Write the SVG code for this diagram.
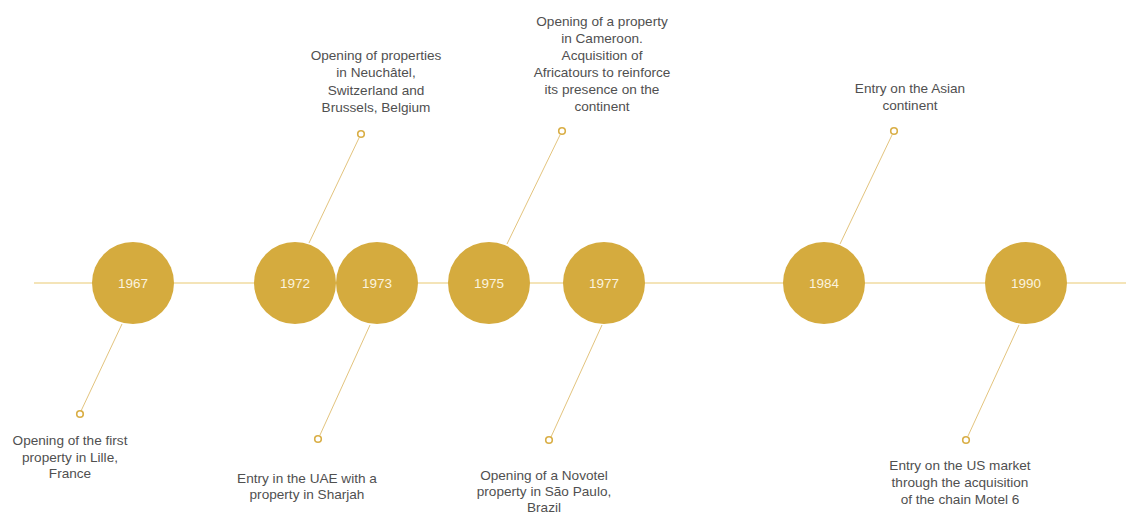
<svg xmlns="http://www.w3.org/2000/svg" width="1126" height="516" viewBox="0 0 1126 516">
  <style>
    .axis { stroke: #f4e4b8; stroke-width: 2; fill: none; }
    .stem { stroke: #e3c47e; stroke-width: 1; fill: none; }
    .pin { fill: #ffffff; stroke: #d9ae45; stroke-width: 1.6; }
    .year-dot { fill: #d5ab3e; }
    .year { font-family: "Liberation Sans", Arial, sans-serif; font-size: 13.5px; fill: #fbf3df; text-anchor: middle; }
    .label { font-family: "Liberation Sans", Arial, sans-serif; font-size: 13.6px; fill: #505050; text-anchor: middle; }
  </style>

  <rect width="1126" height="516" fill="#ffffff"/>

  <!-- timeline axis and stems to the annotation pins -->
  <g id="connectors">
    <line class="axis" x1="34" y1="283" x2="1126" y2="283"/>
    <line class="stem" x1="122" y1="324" x2="81" y2="411"/>
    <line class="stem" x1="309" y1="243" x2="359" y2="138"/>
    <line class="stem" x1="370" y1="325" x2="320" y2="435"/>
    <line class="stem" x1="507" y1="244" x2="560" y2="135"/>
    <line class="stem" x1="602" y1="325" x2="551" y2="437"/>
    <line class="stem" x1="840" y1="244" x2="892" y2="135"/>
    <line class="stem" x1="1019" y1="325" x2="968" y2="436"/>
  </g>

  <g id="y1967">
    <circle class="year-dot" cx="133" cy="283" r="41"/>
    <text class="year" x="133" y="288">1967</text>
    <circle class="pin" cx="80" cy="414" r="3.3"/>
    <text class="label" x="70" y="445">Opening of the first</text>
    <text class="label" x="70" y="462">property in Lille,</text>
    <text class="label" x="70" y="478">France</text>
  </g>

  <g id="y1972">
    <circle class="year-dot" cx="295" cy="283" r="41"/>
    <text class="year" x="295" y="288">1972</text>
    <circle class="pin" cx="361" cy="134" r="3.3"/>
    <text class="label" x="376" y="60">Opening of properties</text>
    <text class="label" x="376" y="77">in Neuchâtel,</text>
    <text class="label" x="376" y="95">Switzerland and</text>
    <text class="label" x="376" y="112">Brussels, Belgium</text>
  </g>

  <g id="y1973">
    <circle class="year-dot" cx="377" cy="283" r="41"/>
    <text class="year" x="377" y="288">1973</text>
    <circle class="pin" cx="318" cy="439" r="3.3"/>
    <text class="label" x="307" y="483">Entry in the UAE with a</text>
    <text class="label" x="307" y="499">property in Sharjah</text>
  </g>

  <g id="y1975">
    <circle class="year-dot" cx="489" cy="283" r="41"/>
    <text class="year" x="489" y="288">1975</text>
    <circle class="pin" cx="562" cy="131" r="3.3"/>
    <text class="label" x="602" y="26">Opening of a property</text>
    <text class="label" x="602" y="43">in Cameroon.</text>
    <text class="label" x="602" y="60">Acquisition of</text>
    <text class="label" x="602" y="77">Africatours to reinforce</text>
    <text class="label" x="602" y="94">its presence on the</text>
    <text class="label" x="602" y="111">continent</text>
  </g>

  <g id="y1977">
    <circle class="year-dot" cx="604" cy="283" r="41"/>
    <text class="year" x="604" y="288">1977</text>
    <circle class="pin" cx="549" cy="440" r="3.3"/>
    <text class="label" x="544" y="480">Opening of a Novotel</text>
    <text class="label" x="544" y="496">property in São Paulo,</text>
    <text class="label" x="544" y="512">Brazil</text>
  </g>

  <g id="y1984">
    <circle class="year-dot" cx="824" cy="283" r="41"/>
    <text class="year" x="824" y="288">1984</text>
    <circle class="pin" cx="894" cy="131" r="3.3"/>
    <text class="label" x="910" y="93">Entry on the Asian</text>
    <text class="label" x="910" y="110">continent</text>
  </g>

  <g id="y1990">
    <circle class="year-dot" cx="1026" cy="283" r="41"/>
    <text class="year" x="1026" y="288">1990</text>
    <circle class="pin" cx="966" cy="440" r="3.3"/>
    <text class="label" x="960" y="470">Entry on the US market</text>
    <text class="label" x="960" y="487">through the acquisition</text>
    <text class="label" x="960" y="504">of the chain Motel 6</text>
  </g>
</svg>
